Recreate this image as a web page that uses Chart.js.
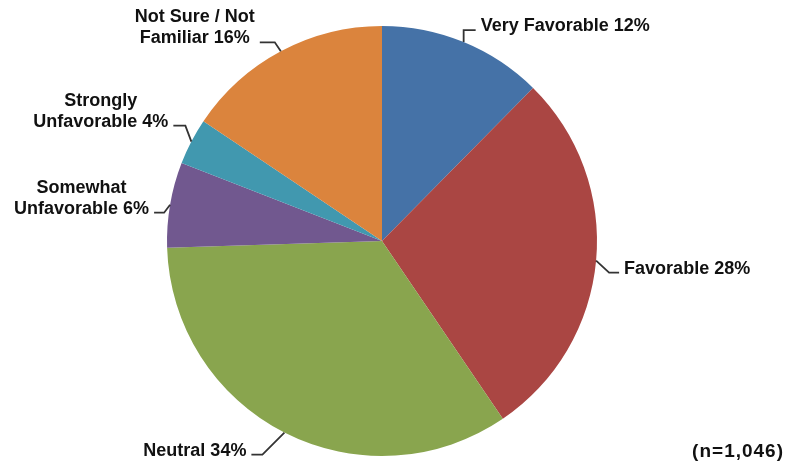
<!DOCTYPE html>
<html>
<head>
<meta charset="utf-8">
<script src="https://cdn.jsdelivr.net/npm/chart.js@4.4.1/dist/chart.umd.min.js"></script>
<style>
  html, body { margin: 0; padding: 0; background: #fff; }
  #wrap { width: 787px; height: 466px; position: relative; }
</style>
</head>
<body>
<div id="wrap"><canvas id="myChart"></canvas></div>
<script>
// slice data, clockwise from the top
var categories = ['Very Favorable', 'Favorable', 'Neutral', 'Somewhat\nUnfavorable', 'Strongly\nUnfavorable', 'Not Sure / Not\nFamiliar'];
var values = [12.4, 28.1, 34.0, 6.4, 3.5, 15.6];
var sampleNote = '(n=1,046)';

var colors = ['#4572A7', '#AA4643', '#89A54E', '#71588F', '#4198AF', '#DB843D'];

// leader line shape per slice: elbow offset from the slice edge, then horizontal run
var leaders = [
  {dx: 0, dy: -12, run: 12},
  {dx: 13, dy: 12, run: 10},
  {dx: -22, dy: 22, run: -11},
  {dx: -6, dy: 8, run: -10},
  {dx: -6, dy: -16, run: -12},
  {dx: -6, dy: -9, run: -15}
];

var pieLabels = {
  id: 'pieLabels',
  afterDatasetsDraw: function(chart) {
    var ctx = chart.ctx;
    var arcs = chart.getDatasetMeta(0).data;
    var total = values.reduce(function(a, b) { return a + b; }, 0);
    ctx.save();
    ctx.font = 'bold 18px "Liberation Sans", Arial, sans-serif';
    ctx.fillStyle = '#111';
    ctx.strokeStyle = '#333';
    ctx.lineWidth = 1.8;
    ctx.textBaseline = 'alphabetic';
    arcs.forEach(function(arc, i) {
      var p = arc.getProps(['x', 'y', 'startAngle', 'endAngle', 'outerRadius'], true);
      var mid = (p.startAngle + p.endAngle) / 2;
      var sx = p.x + Math.cos(mid) * p.outerRadius;
      var sy = p.y + Math.sin(mid) * p.outerRadius;
      var L = leaders[i];
      var ex = sx + L.dx, ey = sy + L.dy;
      var fx = ex + L.run;
      ctx.beginPath();
      ctx.moveTo(sx, sy);
      ctx.lineTo(ex, ey);
      ctx.lineTo(fx, ey);
      ctx.stroke();

      var pct = Math.round(values[i] / total * 100);
      var lines = (categories[i] + ' ' + pct + '%').split('\n');
      var maxW = 0;
      lines.forEach(function(t) { maxW = Math.max(maxW, ctx.measureText(t).width); });
      var cx = L.run > 0 ? fx + 5 + maxW / 2 : fx - 5 - maxW / 2;
      ctx.textAlign = 'center';
      for (var k = 0; k < lines.length; k++) {
        var by = ey + 1 - (lines.length - 1 - k) * 21;
        ctx.fillText(lines[k], cx, by);
      }
    });

    ctx.font = 'bold 19px "Liberation Sans", Arial, sans-serif';
    ctx.letterSpacing = '1px';
    ctx.textAlign = 'right';
    ctx.fillText(sampleNote, 784, 457);
    ctx.restore();
  }
};

var ctx = document.getElementById('myChart').getContext('2d');
var myChart = new Chart(ctx, {
  type: 'pie',
  data: {
    labels: categories,
    datasets: [{
      data: values,
      backgroundColor: colors,
      borderWidth: 0
    }]
  },
  options: {
    responsive: true,
    maintainAspectRatio: false,
    animation: false,
    layout: { padding: {left: 167, top: 26, right: 190, bottom: 10} },
    plugins: {
      legend: { display: false },
      tooltip: { enabled: false }
    }
  },
  plugins: [pieLabels]
});
</script>
</body>
</html>
